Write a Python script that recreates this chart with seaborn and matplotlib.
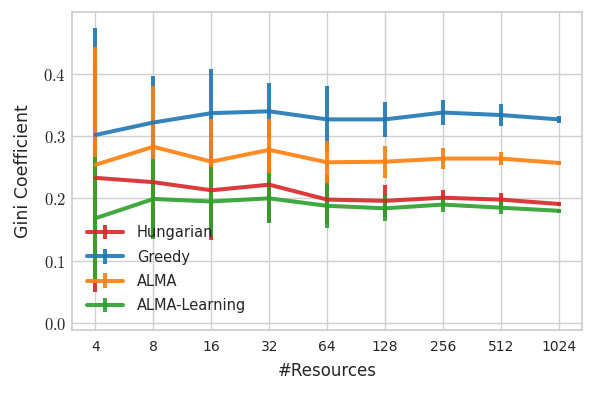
import matplotlib
matplotlib.use("Agg")
import matplotlib.pyplot as plt
import seaborn as sns
import numpy as np

resources = ["4", "8", "16", "32", "64", "128", "256", "512", "1024"]
series_names = ["Hungarian", "Greedy", "ALMA", "ALMA-Learning"]

hungarian = [0.233, 0.226, 0.213, 0.222, 0.198, 0.196, 0.201, 0.198, 0.191]
hungarian_err = [0.183, 0.090, 0.080, 0.060, 0.040, 0.026, 0.013, 0.010, 0.003]

greedy = [0.302, 0.322, 0.337, 0.340, 0.327, 0.327, 0.338, 0.334, 0.327]
greedy_err = [0.172, 0.074, 0.071, 0.045, 0.053, 0.028, 0.020, 0.017, 0.006]

alma = [0.254, 0.283, 0.259, 0.278, 0.258, 0.259, 0.264, 0.264, 0.257]
alma_err = [0.190, 0.098, 0.069, 0.050, 0.035, 0.026, 0.017, 0.010, 0.003]

alma_learning = [0.168, 0.199, 0.195, 0.200, 0.188, 0.184, 0.190, 0.185, 0.180]
alma_learning_err = [0.098, 0.064, 0.056, 0.040, 0.036, 0.021, 0.012, 0.010, 0.003]

yticks = [0.0, 0.1, 0.2, 0.3, 0.4]

sns.set_theme(style="whitegrid")
plt.rcParams["font.family"] = ["DejaVu Sans"]
plt.rcParams["mathtext.fontset"] = "cm"

palette = sns.color_palette("tab10")
colors = [palette[3], palette[0], palette[1], palette[2]]

fig = plt.figure(figsize=(5.98, 3.94), dpi=100)
ax = fig.add_axes([0.120, 0.162, 0.853, 0.808])

x = np.arange(len(resources))
all_vals = [hungarian, greedy, alma, alma_learning]
all_errs = [hungarian_err, greedy_err, alma_err, alma_learning_err]
for name, vals, errs, c in zip(series_names, all_vals, all_errs, colors):
    ax.errorbar(x, vals, yerr=errs, color=c, lw=2.9, elinewidth=2.9,
                capsize=0, alpha=0.9, label=name)

ax.set_xlim(-0.41, len(resources) - 1 + 0.4)
ax.set_ylim(-0.012, 0.5)
ax.set_xticks(x)
ax.set_xticklabels(resources, fontsize=10, color="#262626")
ax.set_yticks(yticks)
ax.set_yticklabels([r"$%.1f$" % v for v in yticks], fontsize=12, color="#262626")
ax.set_xlabel("#Resources", fontsize=12, color="#262626", labelpad=6)
ax.set_ylabel("Gini Coefficient", fontsize=12.5, color="#262626", labelpad=8)
ax.grid(True, color="#d0d0d0", lw=1.0)
for s in ax.spines.values():
    s.set_color("#cccccc")
    s.set_linewidth(1.2)
ax.tick_params(axis="y", length=0, pad=4)
ax.tick_params(axis="x", length=0, pad=7)

leg = ax.legend(loc="lower left", frameon=False, fontsize=10.5,
                handlelength=2.5, handletextpad=0.95, borderaxespad=0.0,
                labelspacing=0.64, bbox_to_anchor=(0.018, 0.035))

fig.savefig("out.png", dpi=100)
